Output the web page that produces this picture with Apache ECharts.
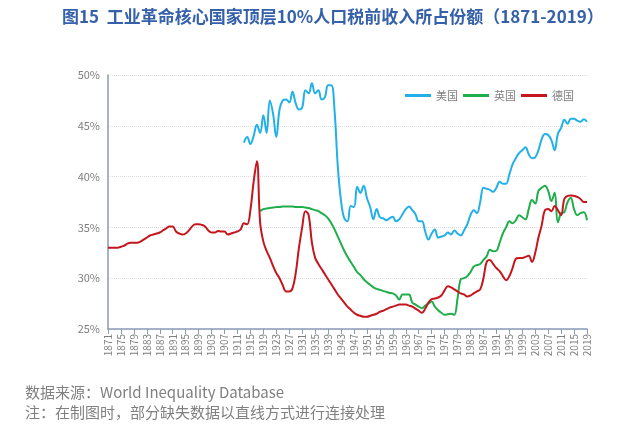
<!DOCTYPE html>
<html><head><meta charset="utf-8">
<script src="https://cdn.jsdelivr.net/npm/echarts@6/dist/echarts.min.js"></script>
<style>html,body{margin:0;padding:0;background:#fff}#c{width:641px;height:434px}</style>
</head><body><div id="c"></div>
<script>
const startYear = 1871, endYear = 2019;
const years = [];
for (let y = startYear; y <= endYear; y++) years.push(String(y));

// 美国 1913-2019
const usStart = 1913;
const usValues = [43.35,43.9,43.2,44.0,45.1,44.3,46.05,44.3,47.5,46.2,43.9,46.6,47.5,47.6,47.3,48.35,47.2,46.6,46.8,48.5,48.2,49.2,48.2,48.5,47.6,47.8,49.0,49.0,46.5,41.0,37.6,35.9,35.6,37.1,37.0,39.0,38.4,39.1,37.9,37.0,35.8,36.8,36.0,35.9,35.7,35.9,36.05,35.6,35.8,36.3,36.8,37.05,36.7,36.3,35.6,35.6,34.6,33.8,34.4,34.8,34.0,34.1,34.2,34.5,34.3,34.7,34.4,34.2,34.7,35.3,36.2,36.7,36.4,37.5,38.9,38.8,38.7,38.5,38.9,39.5,39.3,39.3,40.2,41.2,41.8,42.3,42.6,42.9,42.2,41.8,41.9,42.6,43.7,44.2,44.1,43.6,42.6,44.2,44.8,45.6,45.2,45.7,45.7,45.5,45.4,45.65,45.4];

// 英国 1918-2019
const ukStart = 1918;
const ukValues = [36.6,36.8,36.85,36.9,36.95,37.0,37.0,37.05,37.05,37.05,37.05,37.0,37.0,37.0,36.95,36.9,36.8,36.7,36.6,36.4,36.2,35.9,35.4,34.8,34.1,33.4,32.7,32.1,31.6,31.1,30.6,30.3,29.9,29.6,29.35,29.1,28.95,28.85,28.75,28.65,28.55,28.5,28.3,27.9,28.4,28.4,28.4,27.6,27.4,27.2,27.05,27.3,27.5,27.7,27.2,26.85,26.6,26.4,26.45,26.5,26.4,28.0,29.9,30.0,30.2,30.6,31.15,31.3,31.4,31.8,32.15,32.8,32.65,32.7,33.5,34.4,35.0,35.6,35.4,35.7,36.2,36.0,35.8,36.8,37.7,37.35,38.6,38.9,39.1,38.6,37.6,38.4,35.5,36.4,36.5,37.5,37.9,36.8,36.2,36.4,36.5,35.7];

// 德国 1871-2019
const deStart = 1871;
const deValues = [33.0,33.0,33.0,33.0,33.1,33.2,33.4,33.5,33.5,33.5,33.6,33.8,34.0,34.2,34.3,34.4,34.5,34.7,34.9,35.1,35.1,34.6,34.4,34.3,34.4,34.7,35.1,35.3,35.3,35.25,35.1,34.7,34.5,34.5,34.65,34.6,34.6,34.3,34.4,34.5,34.6,34.8,35.4,35.3,36.7,39.5,41.5,35.5,33.6,32.7,32.0,31.2,30.5,30.0,29.3,28.7,28.7,29.0,30.5,33.0,35.0,36.6,36.2,33.5,32.0,31.4,30.9,30.4,29.9,29.4,28.9,28.4,28.0,27.6,27.2,26.9,26.6,26.4,26.3,26.2,26.2,26.3,26.4,26.5,26.7,26.8,26.95,27.1,27.2,27.3,27.4,27.4,27.4,27.3,27.2,27.0,26.8,26.6,27.0,27.6,27.95,28.0,28.1,28.3,28.8,29.2,29.1,28.9,28.7,28.5,28.4,28.2,28.3,28.5,28.7,28.9,30.0,31.6,31.8,31.4,31.0,30.7,30.2,29.8,30.2,31.0,31.9,32.0,32.0,32.1,32.2,31.6,32.5,34.0,35.2,36.7,36.8,36.6,37.1,36.7,36.2,37.8,38.1,38.15,38.1,38.0,37.8,37.5,37.5];

const yTicks = [25, 30, 35, 40, 45, 50];
const seriesNames = ['美国', '英国', '德国'];
const titleText = '图15  工业革命核心国家顶层10%人口税前收入所占份额（1871-2019）';
const sourceText = '数据来源：World Inequality Database';
const noteText = '注：在制图时，部分缺失数据以直线方式进行连接处理';

function pad(start, vals) {
  const out = [];
  for (let y = startYear; y <= endYear; y++) {
    const i = y - start;
    out.push(i >= 0 && i < vals.length ? vals[i] : null);
  }
  return out;
}

const colors = ['#22b0e8', '#1fae4a', '#c4161c'];
const font = '"Noto Sans CJK SC", "Noto Sans", sans-serif';
const chart = echarts.init(document.getElementById('c'), null, {renderer: 'canvas'});
chart.setOption({
  animation: false,
  textStyle: {fontFamily: font},
  title: [
    {text: titleText, left: 57, top: 3, textStyle: {color: '#3560aa', fontSize: 17, fontWeight: 'bold', fontFamily: font}},
    {text: sourceText, left: 20, top: 380, textStyle: {color: '#808080', fontSize: 15, fontWeight: 'normal', fontFamily: font}},
    {text: noteText, left: 20, top: 400, textStyle: {color: '#808080', fontSize: 15, fontWeight: 'normal', fontFamily: font}}
  ],
  legend: {
    data: seriesNames, left: 400, top: 85, icon: 'rect', itemWidth: 26, itemHeight: 3, itemGap: 5,
    textStyle: {color: '#7f7f7f', fontSize: 11, fontFamily: font}
  },
  grid: {left: 108, right: 54, top: 75, bottom: 105, containLabel: false},
  xAxis: {
    type: 'category', data: years, boundaryGap: false,
    axisLine: {lineStyle: {color: '#8a9bb5', width: 1.5}},
    axisTick: {interval: 3, length: 5, lineStyle: {color: '#8a9bb5'}},
    axisLabel: {interval: 3, rotate: 90, fontSize: 10, color: '#7f7f7f', margin: 5}
  },
  yAxis: {
    type: 'value', min: yTicks[0], max: yTicks[yTicks.length - 1], interval: 5,
    axisLine: {show: true, lineStyle: {color: '#8a9bb5', width: 1.5}},
    axisTick: {show: false},
    axisLabel: {formatter: '{value}%', fontSize: 11, color: '#7f7f7f', margin: 8},
    splitLine: {lineStyle: {color: '#dcdcdc', type: 'dotted'}}
  },
  series: [
    {name: seriesNames[0], type: 'line', data: pad(usStart, usValues), symbol: 'none', smooth: 0.4, connectNulls: true, lineStyle: {width: 2, color: colors[0]}, itemStyle: {color: colors[0]}},
    {name: seriesNames[1], type: 'line', data: pad(ukStart, ukValues), symbol: 'none', smooth: 0.4, connectNulls: true, lineStyle: {width: 2, color: colors[1]}, itemStyle: {color: colors[1]}},
    {name: seriesNames[2], type: 'line', data: pad(deStart, deValues), symbol: 'none', smooth: 0.4, connectNulls: true, lineStyle: {width: 2, color: colors[2]}, itemStyle: {color: colors[2]}}
  ]
});
</script></body></html>
